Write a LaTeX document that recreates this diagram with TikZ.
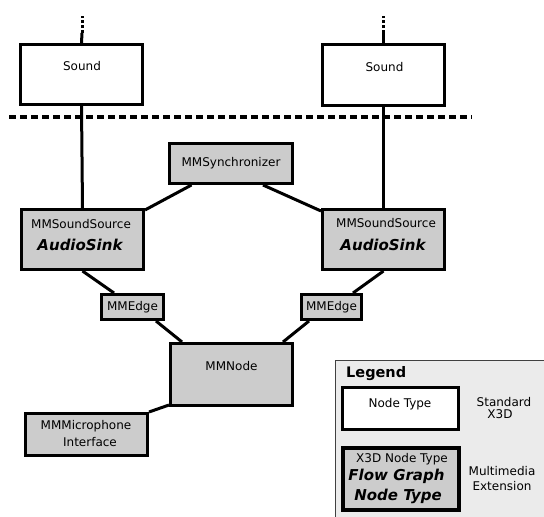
\documentclass[tikz,border=0pt]{standalone}
\usepackage{fontspec}
\setmainfont{DejaVu Sans}[
  BoldFont={DejaVu Sans Bold},
  ItalicFont={DejaVu Sans Oblique},
  BoldItalicFont={DejaVu Sans Bold Oblique}]
\definecolor{mmgray}{HTML}{CCCCCC}
\definecolor{legendbg}{HTML}{EBEBEB}
\begin{document}
\begin{tikzpicture}[x=1pt,y=-1pt,
  box/.style={draw=black, line width=3pt, fill=white, inner sep=0pt},
  mmbox/.style={box, fill=mmgray},
  link/.style={line width=3pt},
  txt/.style={inner sep=0pt, anchor=base, font=\fontsize{12}{14}\selectfont},
  sink/.style={inner sep=0pt, anchor=base, font=\fontsize{15}{17}\selectfont\bfseries\itshape}]
\useasboundingbox (0,0) rectangle (544,517);

% X3D layer
\node[box, minimum width=122pt, minimum height=60pt] (soundL) at (81.5,74.5) {};
\node[box, minimum width=122pt, minimum height=61pt] (soundR) at (383.5,75) {};
\node[txt] (soundLt) at (82,70.5) {Sound};
\node[txt] (soundRt) at (384.5,71) {Sound};

% continuation of the scene graph above
\coordinate (upL) at (82,16);
\coordinate (midL) at (82,33);
\coordinate (upR) at (383.5,16);
\coordinate (midR) at (383.5,33);
\draw[link] (soundL.north) -- (midL);
\draw[line width=3pt, dash pattern=on 3.3pt off 1.7pt] (midL) -- (upL);
\draw[link] (soundR.north) -- (midR);
\draw[line width=3pt, dash pattern=on 3.3pt off 1.7pt] (midR) -- (upR);

% boundary between X3D and the multimedia flow graph
\coordinate (sepA) at (9,117);
\coordinate (sepB) at (472,117);
\draw[line width=3.5pt, dash pattern=on 7pt off 4pt] (sepA) -- (sepB);

% flow graph nodes
\node[mmbox, minimum width=123pt, minimum height=40pt] (sync) at (231,163.5) {};
\node[txt] (synct) at (231,166.5) {MMSynchronizer};

\node[mmbox, minimum width=122pt, minimum height=60pt] (ssL) at (82.5,239.5) {};
\node[txt] (ssLa) at (81,228) {MMSoundSource};
\node[sink] (ssLb) at (80,250.5) {AudioSink};

\node[mmbox, minimum width=122pt, minimum height=60pt] (ssR) at (383.5,239.5) {};
\node[txt] (ssRa) at (386,227.5) {MMSoundSource};
\node[sink] (ssRb) at (383,250) {AudioSink};

\node[mmbox, minimum width=62pt, minimum height=25pt] (edgeL) at (132.5,307) {};
\node[txt] (edgeLt) at (132.5,310.7) {MMEdge};
\node[mmbox, minimum width=60pt, minimum height=25pt] (edgeR) at (331.5,307) {};
\node[txt] (edgeRt) at (331.5,310.7) {MMEdge};

\node[mmbox, minimum width=122pt, minimum height=62pt] (mmnode) at (231.5,374.5) {};
\node[txt] (mmnodet) at (231.5,370.7) {MMNode};

\node[mmbox, minimum width=122pt, minimum height=42pt] (mic) at (86.5,434.5) {};
\node[txt] (mica) at (86,429) {MMMicrophone};
\node[txt] (micb) at (90,446.7) {Interface};

% connectors
\draw[link] (soundL.south) -- (ssL.north);
\draw[link] (soundR.south) -- (ssR.north);
\draw[link] ([xshift=23.5pt]sync.south west) -- ([yshift=-2pt]ssL.north east);
\draw[link] ([xshift=-31pt]sync.south east) -- ([yshift=-3pt]ssR.north west);
\draw[link] (ssL.south) -- ([xshift=14pt]edgeL.north west);
\draw[link] (ssR.south) -- ([xshift=-10pt]edgeR.north east);
\draw[link] ([xshift=-9pt]edgeL.south east) -- ([xshift=13pt]mmnode.north west);
\draw[link] ([xshift=9pt]edgeR.south west) -- ([xshift=-11pt]mmnode.north east);
\draw[link] ([yshift=2pt]mmnode.south west) -- (mic.north east);

% legend
\node[draw=black!75, line width=1pt, fill=legendbg, minimum width=230pt, minimum height=175pt, inner sep=0pt, anchor=north west] (legend) at (334.5,359.5) {};
\node[inner sep=0pt, anchor=base west, font=\fontsize{14.5}{17}\selectfont\bfseries] (legendt) at (346,377) {Legend};

\node[box, minimum width=116pt, minimum height=42pt] (legX3D) at (400.5,408.5) {};
\node[txt] (legX3Dt) at (400,407.5) {Node Type};
\node[txt] (legX3Da) at (504,406) {Standard};
\node[txt] (legX3Db) at (500,418.5) {X3D};

\node[mmbox, line width=3.5pt, minimum width=116pt, minimum height=62pt] (legMM) at (401,479) {};
\node[txt] (legMMa) at (402,462.5) {X3D Node Type};
\node[sink] (legMMb) at (396.5,480.7) {Flow Graph};
\node[sink] (legMMc) at (398,500.7) {Node Type};
\node[txt] (legMMd) at (502,475) {Multimedia};
\node[txt] (legMMe) at (502,490) {Extension};
\end{tikzpicture}
\end{document}
